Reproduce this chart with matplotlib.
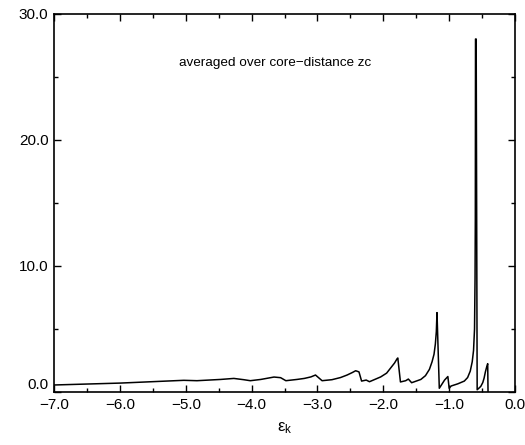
import numpy as np
import matplotlib
matplotlib.use("Agg")
import matplotlib.pyplot as plt
import matplotlib.ticker as ticker
import matplotlib.transforms as mtrans

plt.rcParams['font.family'] = ['Liberation Sans', 'DejaVu Sans']

# curve (energy, averaged value)
eps = [-7.00, -6.00, -5.03, -4.83, -4.47, -4.27, -4.12, -4.02, -3.86, -3.66,
       -3.56, -3.48, -3.31, -3.20, -3.10, -3.03, -2.93, -2.78, -2.65, -2.55,
       -2.47, -2.42, -2.37, -2.33, -2.26, -2.21, -2.04, -1.95, -1.89, -1.83,
       -1.79, -1.78, -1.74, -1.66, -1.62, -1.57, -1.43, -1.36, -1.30, -1.26,
       -1.23, -1.21, -1.195, -1.185, -1.15, -1.07, -1.02, -1.00, -0.97, -0.87,
       -0.77, -0.72, -0.68, -0.65, -0.63, -0.615, -0.607, -0.603, -0.600, -0.59,
       -0.575, -0.55, -0.52, -0.49, -0.47, -0.45, -0.43, -0.415, -0.41]
val = [0.56, 0.71, 0.93, 0.90, 1.00, 1.08, 0.98, 0.90, 1.00, 1.19,
       1.14, 0.90, 1.00, 1.08, 1.20, 1.35, 0.90, 0.98, 1.15, 1.35,
       1.55, 1.69, 1.60, 0.87, 0.95, 0.82, 1.20, 1.50, 1.90, 2.30,
       2.65, 2.70, 0.80, 0.90, 1.03, 0.74, 1.00, 1.30, 1.80, 2.40,
       3.00, 3.80, 4.80, 6.30, 0.30, 0.95, 1.23, 0.30, 0.48, 0.65,
       0.87, 1.15, 1.66, 2.40, 3.30, 5.00, 9.00, 13.7, 28.0, 28.0,
       0.18, 0.30, 0.45, 0.75, 1.10, 1.60, 2.00, 2.25, 0.05]

note = "averaged over core\u2212distance zc"

fig = plt.figure(figsize=(5.25, 4.45), dpi=100)
ax = fig.add_axes([0.103, 0.119, 0.878, 0.850])

ax.plot(eps, val, color="black", lw=1.1)

ax.set_xlim(-7.0, 0.0)
ax.set_ylim(0.0, 30.0)
ax.xaxis.set_major_locator(ticker.MultipleLocator(1.0))
ax.xaxis.set_minor_locator(ticker.MultipleLocator(0.5))
ax.yaxis.set_major_locator(ticker.MultipleLocator(10.0))
ax.yaxis.set_minor_locator(ticker.MultipleLocator(5.0))
ax.xaxis.set_major_formatter(ticker.FuncFormatter(lambda v, p: ("%.1f" % v).replace("-", "\u2212")))
ax.yaxis.set_major_formatter(ticker.FormatStrFormatter("%.1f"))
ax.tick_params(which="both", direction="in", top=True, right=True, labelsize=11, width=1.0)
ax.tick_params(which="major", length=5, pad=4)
ax.tick_params(which="minor", length=3)
for s in ax.spines.values():
    s.set_linewidth(1.2)

# lift the bottom y label a bit so it clears the first x label
fig.canvas.draw()
lift = mtrans.ScaledTranslation(0, 6 / 72, fig.dpi_scale_trans)
for t in ax.yaxis.get_major_ticks():
    if abs(t.get_loc()) < 1e-9:
        t.label1.set_transform(t.label1.get_transform() + lift)

ax.text(-5.1, 26.1, note, fontsize=9.7, va="center", ha="left")
ax.set_xlabel(r"$\mathregular{\epsilon_k}$", fontsize=12, labelpad=6)

fig.savefig("out.png", dpi=100)
